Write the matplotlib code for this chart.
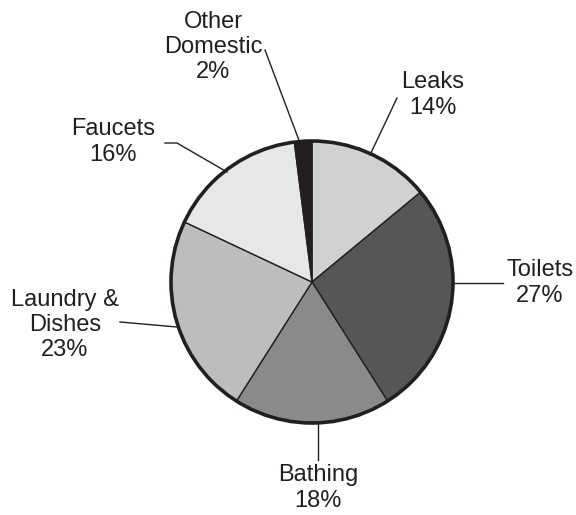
import matplotlib.pyplot as plt
from matplotlib.patches import Circle

plt.rcParams['font.family'] = ['Liberation Sans', 'DejaVu Sans']

# data
labels = ["Leaks", "Toilets", "Bathing", "Laundry &\nDishes", "Faucets", "Other\nDomestic"]
shares = [14, 27, 18, 23, 16, 2]
colors = ["#d0d1d3", "#555658", "#888a8c", "#bcbdbf", "#e6e7e8", "#231f20"]

# label layout (pixel coords, y from top): text centre, leader path
text_pos = [(433, 95), (540, 283), (318, 488), (65, 325), (113, 142), (213, 47)]
leaders = [
    [(397, 98), (370, 155)],
    [(452, 283), (503, 283)],
    [(318, 423), (318, 460)],
    [(120, 322), (177, 327)],
    [(165, 143), (177, 143), (227, 172)],
    [(265, 50), (300, 143)],
]

W, H = 576, 515
fig = plt.figure(figsize=(W / 100, H / 100), dpi=100)
ax = fig.add_axes([0, 0, 1, 1])

cx, cy, r = 312, H - 282, 141
ax.pie(shares, colors=colors, startangle=90, counterclock=False,
       center=(cx, cy), radius=r, frame=True,
       wedgeprops=dict(edgecolor="#231f20", linewidth=1))
ax.add_patch(Circle((cx, cy), r, fill=False, edgecolor="#231f20", linewidth=2.6, zorder=5))
ax.set_xlim(0, W)
ax.set_ylim(0, H)
ax.set_aspect('equal')
ax.axis('off')

for lab, s, (tx, ty), path in zip(labels, shares, text_pos, leaders):
    ax.text(tx, H - ty, f"{lab}\n{s}%", ha='center', va='center',
            fontsize=17, color="#231f20", linespacing=1.2)
    xs = [p[0] for p in path]
    ys = [H - p[1] for p in path]
    ax.plot(xs, ys, color="#231f20", lw=1)

fig.savefig("out.png", dpi=100)
